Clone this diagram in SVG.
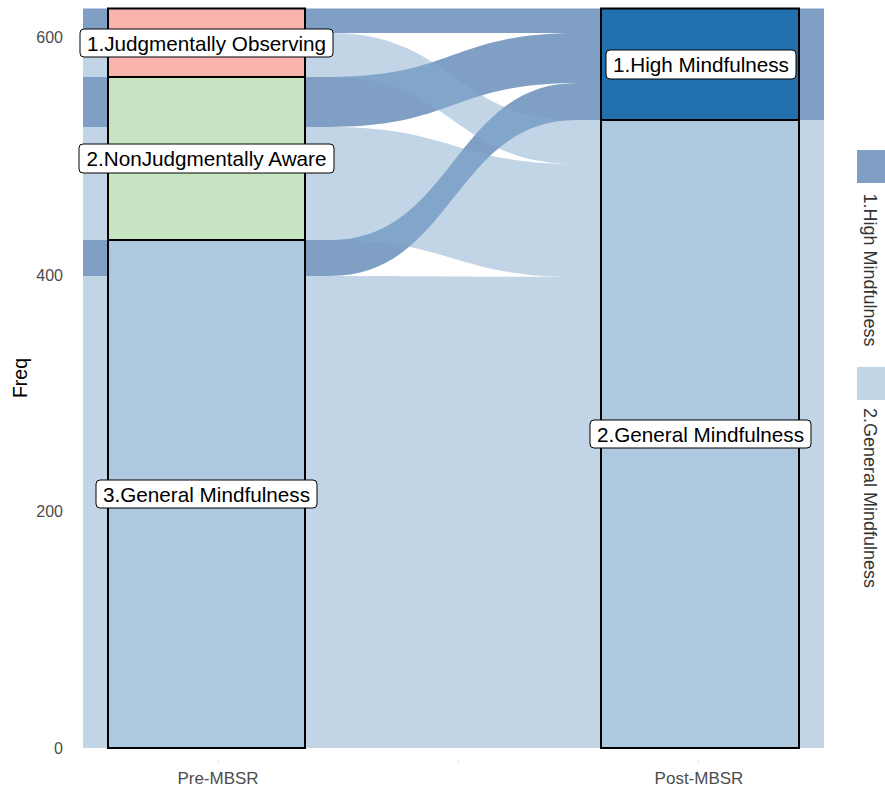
<svg xmlns="http://www.w3.org/2000/svg" width="885" height="789" viewBox="0 0 885 789">
<style>
text{font-family:"Liberation Sans",Arial,sans-serif}
.hi{fill:#004189;fill-opacity:0.5}
.ge{fill:#85abcd;fill-opacity:0.5}
.st{stroke:#000;stroke-width:2}
.lb rect{fill:#fff;stroke:#000;stroke-width:1}
.lb text{font-size:20.7px;fill:#000;text-anchor:middle}
.tick{font-size:16px;fill:#4d4d4d;text-anchor:end}
.xl{font-size:17px;fill:#4d4d4d;text-anchor:middle}
.lg{font-size:18px;fill:#333;text-anchor:middle}
</style>
<rect width="885" height="789" fill="#fff"/>
<!-- axes -->
<g id="axes">
<text class="tick" x="63" y="43">600</text>
<text class="tick" x="63" y="281">400</text>
<text class="tick" x="63" y="517">200</text>
<text class="tick" x="63" y="754">0</text>
<text x="27" y="378" font-size="19.5" fill="#000" text-anchor="middle" transform="rotate(-90 27 378)">Freq</text>
<g stroke="#e0e0e0" stroke-width="1">
<line x1="218" y1="759" x2="218" y2="763"/>
<line x1="458" y1="759" x2="458" y2="763"/>
<line x1="698" y1="759" x2="698" y2="763"/>
</g>
<text class="xl" x="218" y="784">Pre-MBSR</text>
<text class="xl" x="699" y="784">Post-MBSR</text>
</g>
<!-- connectors (alluvia) -->
<g id="connectors">
<path class="hi" d="M83,8.5 H330 C453.5,8.5 453.5,8.5 577,8.5 H824 V33 H577 C453.5,33 453.5,33 330,33 H83 Z"/>
<path class="hi" d="M83,77 H330 C453.5,77 453.5,33 577,33 H824 V83 H577 C453.5,83 453.5,127 330,127 H83 Z"/>
<path class="hi" d="M83,240 H330 C453.5,240 453.5,83 577,83 H824 V120 H577 C453.5,120 453.5,276 330,276 H83 Z"/>
<path class="ge" d="M83,33 H330 C453.5,33 453.5,120 577,120 H824 V164 H577 C453.5,164 453.5,77 330,77 H83 Z"/>
<path class="ge" d="M83,127 H330 C453.5,127 453.5,164 577,164 H824 V277 H577 C453.5,277 453.5,240 330,240 H83 Z"/>
<path class="ge" d="M83,276 H330 C453.5,276 453.5,277 577,277 H824 V748 H577 C453.5,748 453.5,748 330,748 H83 Z"/>
</g>
<!-- Pre-MBSR strata -->
<g id="pre-general">
<rect class="st" x="108" y="240" width="197" height="508" fill="#aec8df"/>
</g>
<g id="pre-nonjudgmental">
<rect class="st" x="108" y="77" width="197" height="163" fill="#c7e5c3"/>
</g>
<g id="pre-judgmental">
<rect class="st" x="108" y="8.5" width="197" height="68.5" fill="#f9b4ad"/>
</g>
<!-- Post-MBSR strata -->
<g id="post-general">
<rect class="st" x="601" y="120" width="198" height="628" fill="#aec8df"/>
</g>
<g id="post-high">
<rect class="st" x="601" y="8.5" width="198" height="111.5" fill="#2270ae"/>
</g>
<!-- labels -->
<g id="label-pre-judgmental" class="lb">
<rect x="80" y="29" width="253" height="28" rx="4"/>
<text x="206.5" y="50.5">1.Judgmentally Observing</text>
</g>
<g id="label-pre-nonjudgmental" class="lb">
<rect x="79" y="144" width="255" height="29" rx="4"/>
<text x="206.5" y="166">2.NonJudgmentally Aware</text>
</g>
<g id="label-pre-general" class="lb">
<rect x="96" y="480" width="221" height="28" rx="4"/>
<text x="206.5" y="501.5">3.General Mindfulness</text>
</g>
<g id="label-post-high" class="lb">
<rect x="606" y="50" width="190" height="29" rx="4"/>
<text x="701" y="72">1.High Mindfulness</text>
</g>
<g id="label-post-general" class="lb">
<rect x="590" y="420" width="221" height="28" rx="4"/>
<text x="700.5" y="441.5">2.General Mindfulness</text>
</g>
<!-- legend -->
<g id="legend">
<rect x="857" y="150" width="28" height="33" fill="#7f9fc4"/>
<text class="lg" x="864" y="270" transform="rotate(90 864 270)">1.High Mindfulness</text>
<rect x="857" y="367" width="28" height="33" fill="#c2d5e6"/>
<text class="lg" x="864" y="498" transform="rotate(90 864 498)">2.General Mindfulness</text>
</g>
</svg>
